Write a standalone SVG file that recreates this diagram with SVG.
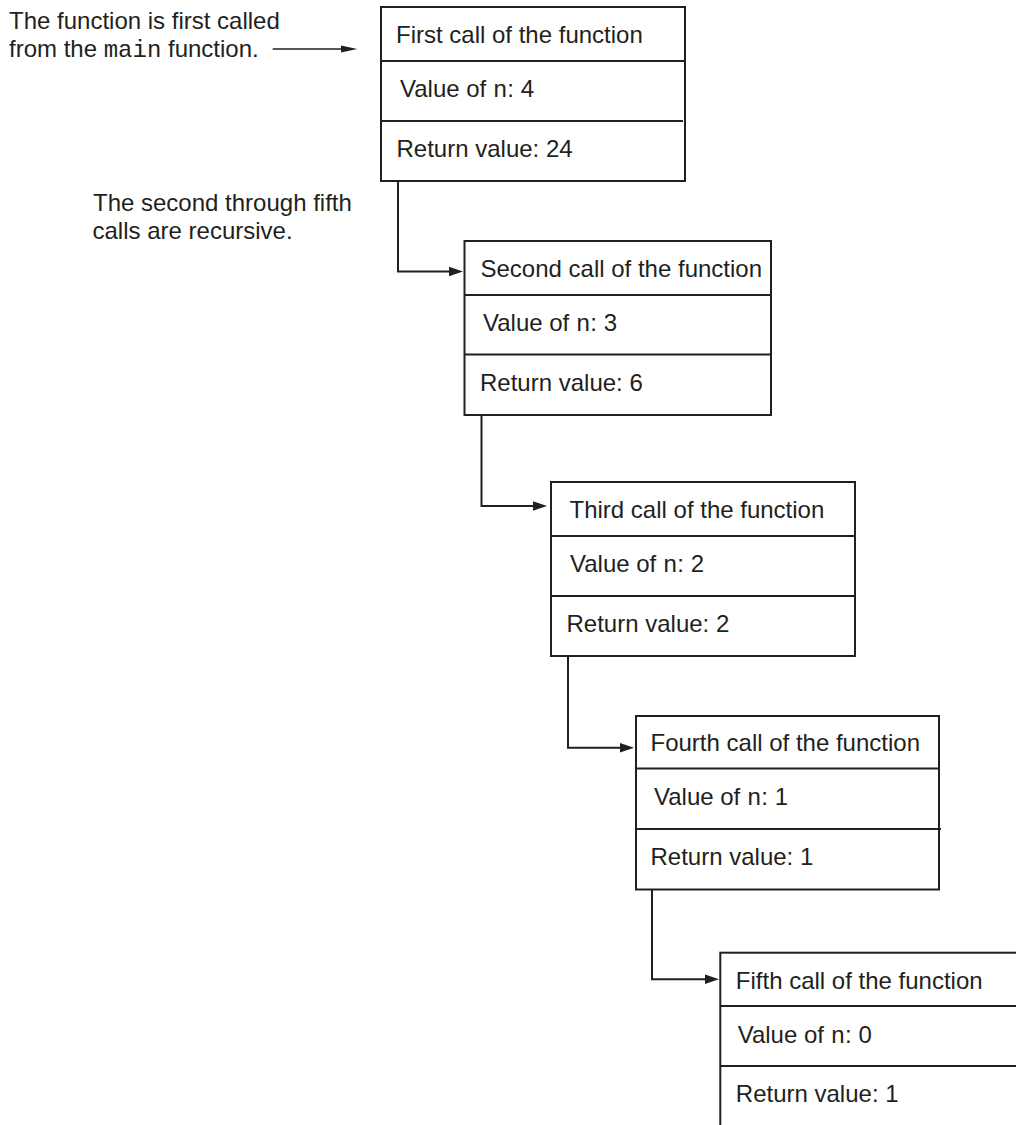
<svg xmlns="http://www.w3.org/2000/svg" width="1016" height="1125" viewBox="0 0 1016 1125">
<defs>
<style>
.box{fill:#fff;stroke:#231f20;stroke-width:2}
.div{stroke:#231f20;stroke-width:2}
.conn{fill:none;stroke:#231f20;stroke-width:2}
.lead{fill:none;stroke:#231f20;stroke-width:1.5}
text{font-family:"Liberation Sans",Arial,sans-serif;font-size:24px;fill:#231f20}
.mono{font-family:"Liberation Mono","Courier New",monospace;font-size:24px}
</style>
<marker id="ah" markerUnits="userSpaceOnUse" markerWidth="14" markerHeight="10" refX="6" refY="5" orient="auto">
<path d="M0,0.3 L14,5 L0,9.7 z" fill="#231f20"/>
</marker>
<marker id="ah2" markerUnits="userSpaceOnUse" markerWidth="16" markerHeight="8" refX="6" refY="4" orient="auto">
<path d="M0,0.6 L16,4 L0,7.4 z" fill="#231f20"/>
</marker>
</defs>
<rect width="1016" height="1125" fill="#fff"/>

<g id="note-main">
<text x="9" y="28.5">The function is first called</text>
<text x="9" y="56.5">from the <tspan class="mono">main</tspan> function.</text>
</g>
<g id="note-recursive">
<text x="93" y="210.7">The second through fifth</text>
<text x="92.5" y="238.5">calls are recursive.</text>
</g>

<g id="connectors">
<path class="lead" d="M272.7,49 H347"/>
<path class="conn" d="M398,181 V271.5 H455"/>
<path class="conn" d="M481.5,415 V506 H540"/>
<path class="conn" d="M568,656 V747.7 H626"/>
<path class="conn" d="M652,889.5 V979.3 H711"/>
</g>
<g id="arrowheads">
<path d="M341,45.6 L357.3,49 L341,52.4 z" fill="#231f20"/>
<path d="M449,266.8 L463,271.5 L449,276.2 z" fill="#231f20"/>
<path d="M533,501.3 L547,506 L533,510.7 z" fill="#231f20"/>
<path d="M620,743 L634,747.7 L620,752.4 z" fill="#231f20"/>
<path d="M705,974.6 L719,979.3 L705,984 z" fill="#231f20"/>
</g>

<g id="call1">
<rect class="box" x="381" y="7" width="304" height="174"/>
<line class="div" x1="381" y1="61" x2="685" y2="61"/>
<line class="div" x1="381" y1="121" x2="683" y2="121"/>
<text x="396" y="43.3">First call of the function</text>
<text x="400" y="96.7">Value of <tspan class="mono">n</tspan>: 4</text>
<text x="396.5" y="156.7">Return value: 24</text>
</g>

<g id="call2">
<rect class="box" x="464.5" y="241" width="306.5" height="174"/>
<line class="div" x1="464.5" y1="295" x2="771" y2="295"/>
<line class="div" x1="464.5" y1="354.5" x2="771" y2="354.5"/>
<text x="480.5" y="277">Second call of the function</text>
<text x="483" y="330.5">Value of <tspan class="mono">n</tspan>: 3</text>
<text x="480" y="390.5">Return value: 6</text>
</g>

<g id="call3">
<rect class="box" x="551" y="482" width="304" height="174"/>
<line class="div" x1="551" y1="536" x2="855" y2="536"/>
<line class="div" x1="551" y1="596" x2="855" y2="596"/>
<text x="569.5" y="517.5">Third call of the function</text>
<text x="570" y="571.7">Value of <tspan class="mono">n</tspan>: 2</text>
<text x="566.5" y="631.7">Return value: 2</text>
</g>

<g id="call4">
<rect class="box" x="636" y="716" width="303" height="173.5"/>
<line class="div" x1="636" y1="768.5" x2="939" y2="768.5"/>
<line class="div" x1="636" y1="829" x2="941" y2="829"/>
<text x="650.5" y="751">Fourth call of the function</text>
<text x="654" y="805">Value of <tspan class="mono">n</tspan>: 1</text>
<text x="650.5" y="865">Return value: 1</text>
</g>

<g id="call5">
<rect class="box" x="720.3" y="952.7" width="330" height="180"/>
<line class="div" x1="720.3" y1="1006" x2="1016" y2="1006"/>
<line class="div" x1="720.3" y1="1066" x2="1016" y2="1066"/>
<text x="735.8" y="989">Fifth call of the function</text>
<text x="737.7" y="1043.3">Value of <tspan class="mono">n</tspan>: 0</text>
<text x="735.8" y="1101.7">Return value: 1</text>
</g>
</svg>
